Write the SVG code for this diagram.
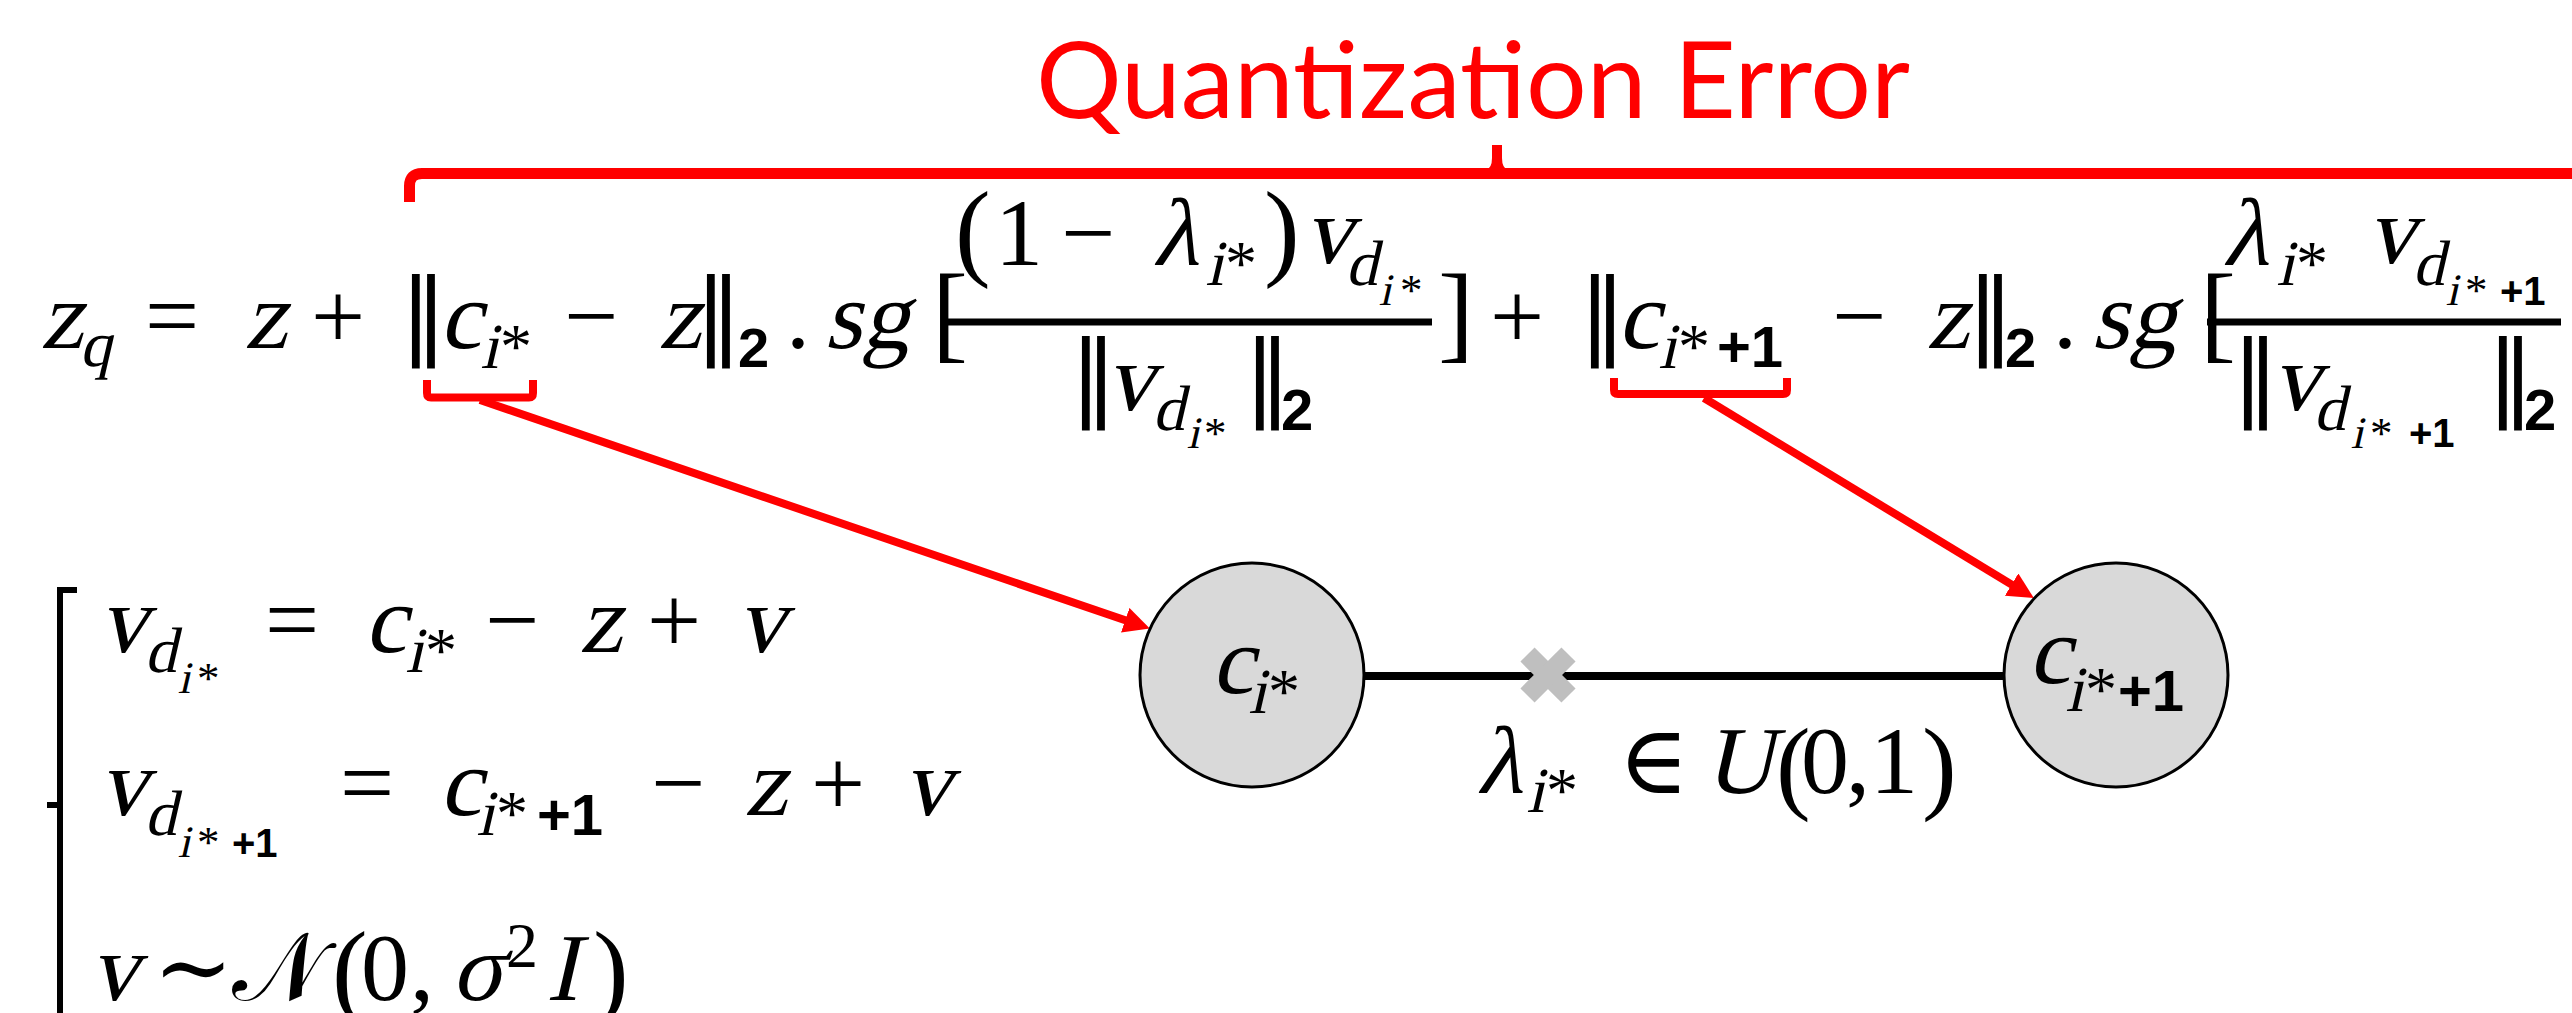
<svg xmlns="http://www.w3.org/2000/svg" width="2572" height="1013" viewBox="0 0 2572 1013">
<style>
.mi{font-family:'Liberation Serif','DejaVu Serif',serif;font-style:normal;fill:#000;transform-box:fill-box;transform-origin:0 78%;transform:skewX(-13deg)}
.mr{font-family:'Liberation Serif','DejaVu Serif',serif;font-style:normal;fill:#000}
.dv{font-family:'DejaVu Sans','Liberation Serif',serif;fill:#000}
.b{font-family:'Liberation Sans',Arial,sans-serif;font-weight:bold;fill:#000}
.title{font-family:Lato,'Open Sans',sans-serif;fill:#ff0000}
.red{stroke:#ff0000;fill:none}
.node{fill:#d9d9d9;stroke:#000;stroke-width:3}
.arrow{stroke:#ff0000;stroke-width:8;fill:none;marker-end:url(#ah)}
</style>
<defs>
<marker id="ah" markerUnits="userSpaceOnUse" markerWidth="28" markerHeight="26" refX="4" refY="13" orient="auto" viewBox="0 0 28 26">
<path d="M0,0 L26,13 L0,26 Z" fill="#ff0000"/>
</marker>
</defs>
<rect width="2572" height="1013" fill="#fff"/>

<g id="title">
<text class="title" x="1036" y="118" font-size="106" textLength="874" lengthAdjust="spacingAndGlyphs">Quantization Error</text>
<path class="red" stroke-width="11" d="M409.5,202 L409.5,186 Q409.5,173.5 422,173.5 L2580,173.5"/>
<path fill="#ff0000" d="M1486,170 Q1492,168 1492,158 L1492,145 L1502,145 L1502,158 Q1502,168 1508,170 Z"/>
</g>

<g id="equation">
<text class="mi" x="41" y="348" font-size="96">z</text>
<text class="mi" x="80" y="366" font-size="64">q</text>
<text class="mr" x="145" y="348" font-size="96">=</text>
<text class="mi" x="245" y="348" font-size="96">z</text>
<text class="mr" x="311" y="348" font-size="96">+</text>
<text class="dv" x="400" y="346" font-size="94">‖</text>
<text class="mi" x="440" y="348" font-size="96">c</text>
<text class="mi" x="481" y="368" font-size="64">i</text>
<text class="mr" x="500" y="368" font-size="64">*</text>
<text class="mr" x="564" y="348" font-size="96">−</text>
<text class="mi" x="659" y="348" font-size="96">z</text>
<text class="dv" x="695" y="346" font-size="94">‖</text>
<text class="b" x="738" y="367" font-size="56">2</text>
<text class="mr" x="786" y="348" font-size="96">.</text>
<text class="mi" x="825" y="348" font-size="96">sg</text>
<text class="mr" x="932" y="349" font-size="108">[</text>
<rect x="945" y="318.5" width="487" height="7" fill="#000"/>
<text class="mr" x="955" y="266" font-size="107">(</text>
<text class="mr" x="995" y="265" font-size="96">1</text>
<text class="mr" x="1061" y="265" font-size="96">−</text>
<text class="mi" x="1153" y="265" font-size="96">λ</text>
<text class="mi" x="1206" y="285" font-size="64">i</text>
<text class="mr" x="1225" y="285" font-size="64">*</text>
<text class="mr" x="1264" y="266" font-size="107">)</text>
<text class="mi" x="1305" y="263" font-size="96">v</text>
<text class="mi" x="1346" y="285" font-size="64">d</text>
<text class="mi" x="1379" y="305" font-size="45">i</text>
<text class="mr" x="1400" y="305" font-size="45">*</text>
<text class="mr" x="1438" y="349" font-size="108">]</text>
<text class="dv" x="1070" y="408" font-size="94">‖</text>
<text class="mi" x="1107" y="410" font-size="96">v</text>
<text class="mi" x="1153" y="430" font-size="64">d</text>
<text class="mi" x="1187" y="448" font-size="45">i</text>
<text class="mr" x="1204" y="448" font-size="45">*</text>
<text class="dv" x="1244" y="408" font-size="94">‖</text>
<text class="b" x="1281" y="430" font-size="58">2</text>
<text class="mr" x="1490" y="348" font-size="96">+</text>
<text class="dv" x="1579" y="346" font-size="94">‖</text>
<text class="mi" x="1618" y="348" font-size="96">c</text>
<text class="mi" x="1659" y="368" font-size="64">i</text>
<text class="mr" x="1678" y="368" font-size="64">*</text>
<text class="b" x="1717" y="367" font-size="58">+1</text>
<text class="mr" x="1832" y="348" font-size="96">−</text>
<text class="mi" x="1927" y="348" font-size="96">z</text>
<text class="dv" x="1967" y="346" font-size="94">‖</text>
<text class="b" x="2005" y="367" font-size="56">2</text>
<text class="mr" x="2053" y="348" font-size="96">.</text>
<text class="mi" x="2092" y="348" font-size="96">sg</text>
<text class="mr" x="2200" y="349" font-size="108">[</text>
<rect x="2207" y="318.5" width="354" height="7" fill="#000"/>
<text class="mi" x="2223" y="265" font-size="96">λ</text>
<text class="mi" x="2277" y="285" font-size="64">i</text>
<text class="mr" x="2296" y="285" font-size="64">*</text>
<text class="mi" x="2368" y="263" font-size="96">v</text>
<text class="mi" x="2413" y="285" font-size="64">d</text>
<text class="mi" x="2446" y="305" font-size="45">i</text>
<text class="mr" x="2465" y="305" font-size="45">*</text>
<text class="b" x="2500" y="305" font-size="40">+1</text>
<text class="dv" x="2232" y="408" font-size="94">‖</text>
<text class="mi" x="2273" y="410" font-size="96">v</text>
<text class="mi" x="2314" y="430" font-size="64">d</text>
<text class="mi" x="2351" y="448" font-size="45">i</text>
<text class="mr" x="2370" y="448" font-size="45">*</text>
<text class="b" x="2409" y="447" font-size="40">+1</text>
<text class="dv" x="2487" y="408" font-size="94">‖</text>
<text class="b" x="2524" y="430" font-size="58">2</text>
<path class="red" stroke-width="8" d="M427,380 V393 Q427,397.5 431,397.5 H529 Q533,397.5 533,393 V380"/>
<path class="red" stroke-width="8" d="M1614,378 V390 Q1614,394 1618,394 H1783 Q1787,394 1787,390 V378"/>
</g>

<g id="system">
<path d="M77,590 H60 V1020 M47,805 H60" stroke="#000" stroke-width="6" fill="none"/>
<text class="mi" x="100" y="652" font-size="96">v</text>
<text class="mi" x="145" y="672" font-size="64">d</text>
<text class="mi" x="178" y="693" font-size="45">i</text>
<text class="mr" x="197" y="693" font-size="45">*</text>
<text class="mr" x="265" y="652" font-size="96">=</text>
<text class="mi" x="365" y="652" font-size="96">c</text>
<text class="mi" x="406" y="672" font-size="64">i</text>
<text class="mr" x="425" y="672" font-size="64">*</text>
<text class="mr" x="485" y="652" font-size="96">−</text>
<text class="mi" x="580" y="652" font-size="96">z</text>
<text class="mr" x="647" y="652" font-size="96">+</text>
<text class="mi" x="738" y="652" font-size="96">v</text>

<text class="mi" x="100" y="815" font-size="96">v</text>
<text class="mi" x="145" y="835" font-size="64">d</text>
<text class="mi" x="178" y="857" font-size="45">i</text>
<text class="mr" x="197" y="857" font-size="45">*</text>
<text class="b" x="232" y="857" font-size="40">+1</text>
<text class="mr" x="340" y="815" font-size="96">=</text>
<text class="mi" x="440" y="815" font-size="96">c</text>
<text class="mi" x="477" y="835" font-size="64">i</text>
<text class="mr" x="496" y="835" font-size="64">*</text>
<text class="b" x="537" y="835" font-size="58">+1</text>
<text class="mr" x="651" y="815" font-size="96">−</text>
<text class="mi" x="745" y="815" font-size="96">z</text>
<text class="mr" x="811" y="815" font-size="96">+</text>
<text class="mi" x="904" y="815" font-size="96">v</text>

<text class="mi" x="91" y="1000" font-size="96">v</text>
<text class="mr" x="153" y="1000" font-size="96">∼</text>
<text class="mr" x="232" y="1000" font-size="96">𝒩</text>
<text class="mr" x="332" y="1006" font-size="107">(</text>
<text class="mr" x="361" y="1000" font-size="96">0</text>
<text class="mr" x="410" y="1000" font-size="96">,</text>
<text class="mi" x="452" y="1000" font-size="96">σ</text>
<text class="mr" x="506" y="967" font-size="64">2</text>
<text class="mi" x="547" y="1000" font-size="96">I</text>
<text class="mr" x="593" y="1006" font-size="107">)</text>
</g>

<g id="connectors">
<line x1="1364" y1="676" x2="2004" y2="676" stroke="#000" stroke-width="8"/>
<path class="arrow" d="M480,400 L1129,621.5"/>
<path class="arrow" d="M1704,398 L2015,586.6"/>
</g>

<g id="node-c1">
<circle class="node" cx="1252" cy="675" r="112"/>
<text class="mi" x="1212" y="693" font-size="96">c</text>
<text class="mi" x="1249" y="713" font-size="64">i</text>
<text class="mr" x="1268" y="713" font-size="64">*</text>
</g>

<g id="node-c2">
<circle class="node" cx="2116" cy="675" r="112"/>
<text class="mi" x="2029" y="683" font-size="96">c</text>
<text class="mi" x="2066" y="711" font-size="64">i</text>
<text class="mr" x="2085" y="711" font-size="64">*</text>
<text class="b" x="2118" y="711" font-size="58">+1</text>
</g>

<g id="sample">
<g transform="translate(1548,675) rotate(45)" fill="#bfbfbf">
<rect x="-29" y="-10" width="58" height="20"/>
<rect x="-10" y="-29" width="20" height="58"/>
</g>
<text class="mi" x="1477" y="793" font-size="96">λ</text>
<text class="mi" x="1527" y="812" font-size="64">i</text>
<text class="mr" x="1546" y="812" font-size="64">*</text>
<text class="mr" x="1618" y="793" font-size="96">∈</text>
<text class="mi" x="1705" y="793" font-size="96">U</text>
<text class="mr" x="1776" y="800" font-size="104">(</text>
<text class="mr" x="1801" y="793" font-size="96">0</text>
<text class="mr" x="1846" y="793" font-size="96">,</text>
<text class="mr" x="1870" y="793" font-size="96">1</text>
<text class="mr" x="1922" y="800" font-size="104">)</text>
</g>
</svg>
